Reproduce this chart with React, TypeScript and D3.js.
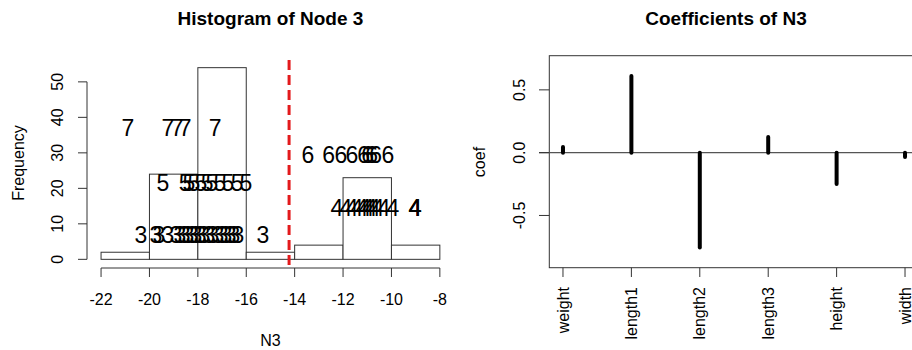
import React from 'react';
import * as d3 from 'd3';

// histogram of N3
const binEdges = [-22, -20, -18, -16, -14, -12, -10, -8];
const binCounts = [2, 24, 54, 2, 4, 23, 4];
const cutoff = -14.23;

// N3 values of each point, by cluster label, and the height the label is written at
const clusterIds = [3, 4, 5, 6, 7];
const clusterLevel = [7, 14.5, 21.5, 29.5, 37];
const n3ByCluster: number[][] = [
  [-20.35, -19.73, -19.61, -19.24, -18.91, -18.74, -18.57, -18.41, -18.24, -18.08, -17.91,
    -17.75, -17.54, -17.38, -17.17, -17.0, -16.84, -16.67, -16.51, -16.34, -15.31],
  [-12.25, -11.88, -11.63, -11.43, -11.22, -11.1, -10.97, -10.85, -10.72, -10.56, -10.31,
    -9.94, -9.03, -9.03, -9.01],
  [-19.44, -18.53, -18.37, -18.16, -17.87, -17.62, -17.42, -17.09, -16.76, -16.38, -16.01],
  [-13.45, -12.59, -12.09, -11.63, -11.15, -10.98, -10.82, -10.65, -10.15],
  [-20.89, -19.24, -18.86, -18.53, -17.29],
];
const histXTicks = [-22, -20, -18, -16, -14, -12, -10, -8];
const histYTicks = [0, 10, 20, 30, 40, 50];

// coefficients
const coefNames = ['weight', 'length1', 'length2', 'length3', 'height', 'width'];
const coefValues = [0.045, 0.61, -0.755, 0.125, -0.25, -0.035];
const coefYTicks = [0.5, 0, -0.5];

const font = '"Liberation Sans", Arial, sans-serif';
const ink = '#333';

const App: React.FC = () => {
  const width = 912;
  const height = 350;

  // left panel scales
  const hx = d3.scaleLinear().domain([-22.56, -7.44]).range([87.5, 453.4]);
  const hy = d3.scaleLinear().domain([-2.16, 56.16]).range([267, 60]);
  const hMid = (87.5 + 453.4) / 2;

  // right panel scales
  const cx = d3.scaleLinear().domain([0.8, 6.2]).range([549.3, 918.7]);
  const cy = d3.scaleLinear().domain([-0.916, 0.772]).range([267.7, 55.7]);
  const cMid = (549.3 + 918.7) / 2;

  const fmt = (v: number) => (v === 0 ? '0.0' : d3.format('.1f')(v).replace('−', '-'));

  return (
    <svg width={width} height={height} style={{ position: 'absolute', left: 0, top: 0, background: '#fff' }}
      fontFamily={font}>
      {/* ---------- histogram ---------- */}
      <text x={hMid} y={25} textAnchor="middle" fontSize={19} fontWeight="bold">Histogram of Node 3</text>
      {binCounts.map((c, i) => (
        <rect key={i} x={hx(binEdges[i])} y={hy(c)} width={hx(binEdges[i + 1]) - hx(binEdges[i])}
          height={hy(0) - hy(c)} fill="#fff" stroke={ink} strokeWidth={1} />
      ))}
      {n3ByCluster.map((vals, k) =>
        vals.map((v, j) => (
          <text key={`${k}-${j}`} x={hx(v)} y={hy(clusterLevel[k]) + 8.2} textAnchor="middle" fontSize={23}
            fill="#000">{clusterIds[k]}</text>
        ))
      )}
      <line x1={hx(cutoff)} x2={hx(cutoff)} y1={60} y2={267} stroke="#e31a1c" strokeWidth={3}
        strokeDasharray="10 5" />
      {/* x axis */}
      <line x1={hx(-22)} x2={hx(-8)} y1={268} y2={268} stroke={ink} />
      {histXTicks.map(t => (
        <g key={t}>
          <line x1={hx(t)} x2={hx(t)} y1={268} y2={277} stroke={ink} />
          <text x={hx(t)} y={305} textAnchor="middle" fontSize={16}>{t}</text>
        </g>
      ))}
      <text x={hMid} y={346} textAnchor="middle" fontSize={16}>N3</text>
      {/* y axis */}
      <line x1={87} x2={87} y1={hy(0)} y2={hy(50)} stroke={ink} />
      {histYTicks.map(t => (
        <g key={t}>
          <line x1={78} x2={87} y1={hy(t)} y2={hy(t)} stroke={ink} />
          <text transform={`translate(63,${hy(t)}) rotate(-90)`} textAnchor="middle" fontSize={16}>{t}</text>
        </g>
      ))}
      <text transform={`translate(23.5,163) rotate(-90)`} textAnchor="middle" fontSize={16}>Frequency</text>

      {/* ---------- coefficients ---------- */}
      <text x={cMid - 8} y={25} textAnchor="middle" fontSize={19} fontWeight="bold">Coefficients of N3</text>
      <rect x={549.3} y={55.7} width={918.7 - 549.3} height={267.7 - 55.7} fill="none" stroke={ink} />
      <line x1={539} x2={width} y1={cy(0)} y2={cy(0)} stroke="#555" strokeWidth={1.2} />
      {coefValues.map((v, i) => (
        <line key={i} x1={cx(i + 1)} x2={cx(i + 1)} y1={cy(0)} y2={cy(v)} stroke="#000" strokeWidth={4}
          strokeLinecap="round" />
      ))}
      {coefYTicks.map(t => (
        <g key={t}>
          <line x1={539} x2={549.3} y1={cy(t)} y2={cy(t)} stroke={ink} />
          <text transform={`translate(525,${cy(t)}) rotate(-90)`} textAnchor="middle" fontSize={16}>{fmt(t)}</text>
        </g>
      ))}
      <text transform={`translate(485,162) rotate(-90)`} textAnchor="middle" fontSize={16}>coef</text>
      {coefNames.map((n, i) => (
        <g key={n}>
          <line x1={cx(i + 1)} x2={cx(i + 1)} y1={267.7} y2={277} stroke={ink} />
          <text transform={`translate(${cx(i + 1) + 5.7},287) rotate(-90)`} textAnchor="end" fontSize={16}>{n}</text>
        </g>
      ))}
    </svg>
  );
};

export default App;
